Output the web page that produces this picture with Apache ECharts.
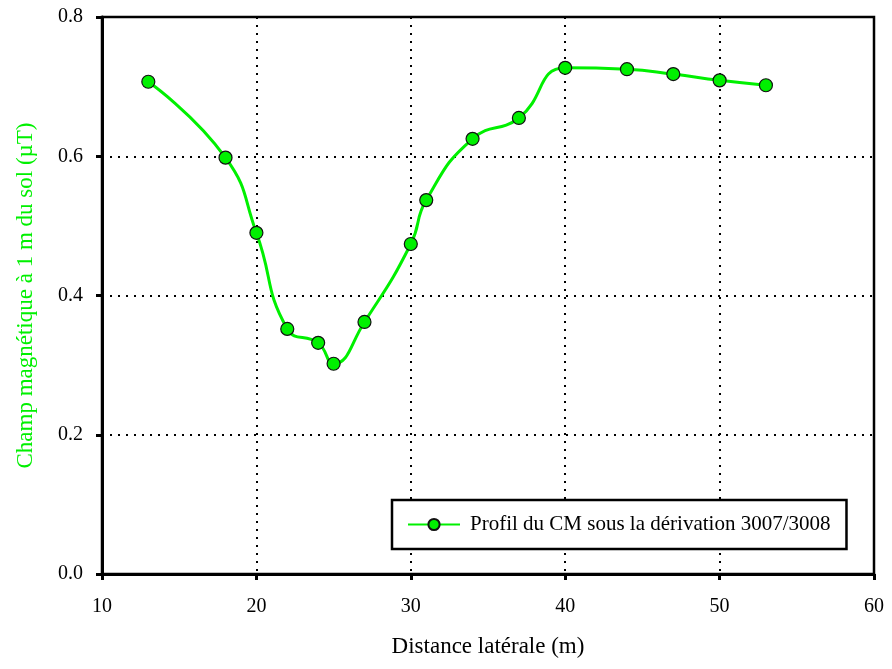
<!DOCTYPE html>
<html>
<head>
<meta charset="utf-8">
<script src="https://cdn.jsdelivr.net/npm/echarts@6/dist/echarts.min.js"></script>
<style>
  html, body { margin: 0; padding: 0; background: #fff; }
  #chart { width: 892px; height: 669px; }
</style>
</head>
<body>
<div id="chart"></div>
<script>
// distances latérales (m)
const distances = [13, 18, 20, 22, 24, 25, 27, 30, 31, 34, 37, 40, 44, 47, 50, 53]
// champ magnétique à 1 m du sol (µT)
const champ = [0.707, 0.598, 0.490, 0.352, 0.332, 0.302, 0.362, 0.474, 0.537, 0.625, 0.655, 0.727, 0.725, 0.718, 0.709, 0.702]
const seriesName = 'Profil du CM sous la dérivation 3007/3008'

const font = 'Liberation Serif'
const green = '#00f000'
const chart = echarts.init(document.getElementById('chart'))

const option = {
  backgroundColor: '#fff',
  animation: false,
  grid: {
    left: 102,
    right: 18,
    top: 17,
    bottom: 95,
    show: true,
    borderColor: '#000',
    borderWidth: 2.5
  },
  legend: {
    left: 392,
    top: 500,
    padding: [14, 16, 14, 15],
    borderColor: '#000',
    borderWidth: 2.5,
    backgroundColor: '#fff',
    itemWidth: 52,
    itemHeight: 14,
    itemGap: 0,
    textStyle: { fontFamily: font, fontSize: 21, color: '#000', padding: [0, 0, 0, 5] },
    data: [seriesName]
  },
  xAxis: {
    type: 'value',
    min: 10,
    max: 60,
    interval: 10,
    name: 'Distance latérale (m)',
    nameLocation: 'middle',
    nameGap: 61,
    nameTextStyle: { fontFamily: font, fontSize: 23, color: '#000' },
    axisLine: { onZero: false, lineStyle: { color: '#000', width: 3 } },
    axisTick: { length: 6, lineStyle: { color: '#000', width: 3 } },
    axisLabel: { margin: 23, fontFamily: font, fontSize: 20, color: '#000' },
    splitLine: { show: true, lineStyle: { color: '#000', width: 2, type: [2, 6] } }
  },
  yAxis: {
    type: 'value',
    min: 0,
    max: 0.8,
    interval: 0.2,
    name: 'Champ magnétique à 1 m du sol (µT)',
    nameLocation: 'middle',
    nameGap: 65,
    nameTextStyle: { fontFamily: font, fontSize: 23, color: green },
    axisLine: { show: true, lineStyle: { color: '#000', width: 3 } },
    axisTick: { show: true, length: 6, lineStyle: { color: '#000', width: 3 } },
    axisLabel: {
      margin: 19,
      fontFamily: font,
      fontSize: 20,
      color: '#000',
      formatter: v => v.toFixed(1)
    },
    splitLine: { show: true, lineStyle: { color: '#000', width: 2, type: [2, 6] } }
  },
  series: [
    {
      name: seriesName,
      type: 'line',
      smooth: 0.5,
      data: distances.map((d, i) => [d, champ[i]]),
      symbol: 'circle',
      symbolSize: 13,
      lineStyle: { color: green, width: 3 },
      itemStyle: { color: green, borderColor: '#111', borderWidth: 1.2 }
    }
  ]
}

chart.setOption(option)
</script>
</body>
</html>
